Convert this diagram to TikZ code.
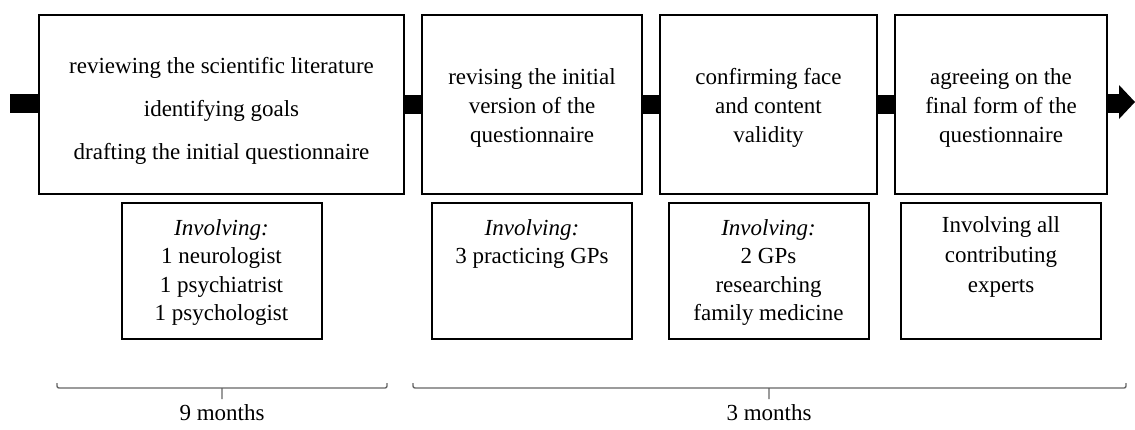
\documentclass[tikz,border=0pt]{standalone}
\usepackage{fontspec}
\setmainfont{Liberation Serif}
\usetikzlibrary{positioning}
\begin{document}
\begin{tikzpicture}[x=.5pt,y=-.5pt,line width=1pt,font=\fontsize{11.5}{14.5}\selectfont,
 stage/.style={draw,fill=white,minimum height=89.5pt,inner sep=0pt},
 stagetext/.style={inner sep=0pt,align=center},
 who/.style={draw,minimum width=100pt,minimum height=68pt,inner sep=0pt},
 whotext/.style={anchor=north,inner sep=0pt,align=center,font=\fontsize{11.5}{14.2}\selectfont},
 span/.style={line width=.7pt,draw=black!60,rounded corners=1pt}]
\useasboundingbox (0,0) rectangle (1135,429);
\node[stage,minimum width=182.5pt] (s1) at (221.5,104) {};
\node[stage,minimum width=110pt,right=8pt of s1] (s2) {};
\node[stage,minimum width=108.5pt,right=8pt of s2] (s3) {};
\node[stage,minimum width=106pt,right=8pt of s3] (s4) {};
\node[stagetext] (t1) at ([yshift=-3.5pt]s1.center) {reviewing the scientific literature\\[7pt]identifying goals\\[7pt]drafting the initial questionnaire};
\node[stagetext] (t2) at ([yshift=-2pt]s2.center) {revising the initial\\version of the\\questionnaire};
\node[stagetext] (t3) at ([yshift=-2pt]s3.center) {confirming face\\and content\\validity};
\node[stagetext] (t4) at ([yshift=-2pt]s4.center) {agreeing on the\\final form of the\\questionnaire};
% main flow
\coordinate (in) at (10,103); \coordinate (head) at (1120,103); \coordinate (out) at (1135,102);
\draw[line width=9.5pt] (in)--(in-|s1.west) (s1)--(s2) (s2)--(s3) (s3)--(s4) (s4.east|-head)--(head);
\fill (out)--(1119,85)--(1119,119)--cycle;
% who was involved
\foreach \s/\w in {s1/a,s2/b,s3/c,s4/d} \node[who,below=3.5pt of \s] (\w) {};
\node[whotext] (ta) at ([yshift=-8.5pt]a.north) {\textit{Involving:}\\1 neurologist\\1 psychiatrist\\1 psychologist};
\node[whotext] (tb) at ([yshift=-8.5pt]b.north) {\textit{Involving:}\\3 practicing GPs};
\node[whotext] (tc) at ([yshift=-8.5pt]c.north) {\textit{Involving:}\\2 GPs\\researching\\family medicine};
\node[whotext,font=\fontsize{11.5}{15}\selectfont] (td) at ([yshift=-7pt]d.north) {Involving all\\contributing\\experts};
% time spans
\draw[span] (57,383)--(57,388)--(387,388)--(387,383) (222,388)--(222,399);
\draw[span] (413,383)--(413,388)--(1126,388)--(1126,383) (769,388)--(769,399);
\node (m9) at (222,413) {9 months}; \node (m3) at (769,413) {3 months};
\end{tikzpicture}
\end{document}
